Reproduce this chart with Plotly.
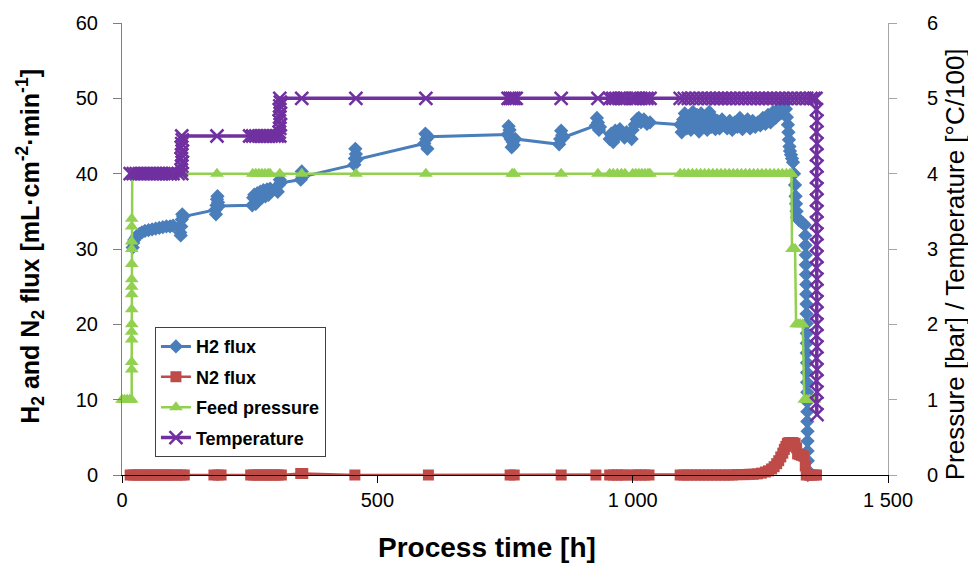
import plotly.graph_objects as go

# ---------------- data ----------------
h2_time = [21, 22, 24, 27, 30, 34, 39, 45, 52, 59, 66, 73, 80, 87, 94, 100,
           113, 114, 115, 116, 117, 118, 120,
           183, 184, 185, 186, 187, 188, 190,
           255, 257, 259, 262, 265, 268, 271, 274, 277, 281, 284, 287, 290,
           305, 307, 309, 311,
           350, 352, 354,
           455, 456, 457, 458, 460,
           592, 594, 596, 598, 600,
           755, 757, 759, 761, 763, 765, 767, 770,
           856, 858, 860, 862, 864,
           928, 930, 932, 934, 936,
           955, 958, 962, 966, 970, 975, 980, 984, 988,
           998, 1000, 1004, 1008, 1012, 1016, 1022, 1028, 1034,
           1093, 1096, 1099, 1102, 1106, 1110, 1114, 1118, 1122, 1126, 1130, 1134,
           1138, 1142, 1146, 1150, 1154, 1158, 1162, 1166, 1170, 1175, 1180, 1185,
           1190, 1195, 1200, 1205, 1210, 1215, 1220, 1225, 1230, 1235, 1240, 1245,
           1250, 1255, 1260, 1265, 1270, 1275, 1280, 1285, 1290, 1294, 1298, 1300,
           1302, 1304, 1305, 1306, 1307, 1308, 1310, 1312, 1314, 1316, 1318, 1319,
           1320, 1321, 1322, 1326, 1330, 1334, 1337,
           1338, 1338.5, 1339, 1339, 1339.5, 1340, 1340, 1340.5, 1340.5, 1341, 1341,
           1341, 1341, 1341.5, 1341.5, 1341.5, 1342, 1342, 1342, 1342, 1342.5, 1342.5,
           1342.5, 1343, 1343, 1343]
h2_flux = [30.2, 30.8, 31.2, 31.5, 31.8, 32.0, 32.2, 32.4, 32.5, 32.6, 32.7, 32.8, 32.9, 33.0, 33.0, 33.1,
           33.0, 32.2, 31.8, 33.0, 33.9, 34.6, 34.3,
           35.2, 34.6, 35.8, 36.6, 37.0, 36.2, 35.7,
           35.8, 36.8, 37.2, 36.0, 37.4, 36.5, 37.6, 36.8, 37.8, 37.0, 37.9, 37.2, 38.0,
           37.6, 38.5, 39.2, 38.8,
           39.2, 40.3, 39.6,
           41.2, 42.0, 43.3, 42.6, 41.9,
           44.0, 45.3, 44.6, 43.3, 44.9,
           45.2, 46.3, 45.8, 44.6, 43.5, 44.2, 43.8, 44.6,
           43.9, 44.6, 45.7, 45.1, 44.8,
           46.4, 47.4, 46.8, 45.8, 46.2,
           44.6, 45.3, 44.2, 45.7, 45.0, 45.9, 45.4, 44.8, 45.5,
           44.6, 45.8, 46.5, 47.2, 47.4, 46.8, 47.2, 46.6, 46.8,
           46.5, 45.5, 47.2, 48.0, 46.0, 47.6, 45.8, 48.2, 46.4, 47.8, 45.6, 48.0,
           46.6, 47.6, 45.8, 48.2, 46.2, 47.4, 45.9, 47.0, 46.0, 47.2, 46.4, 46.0,
           47.0, 45.8, 46.8, 46.2, 47.4, 45.9, 46.6, 47.2, 46.0, 47.0, 46.2, 46.8,
           46.4, 47.4, 46.6, 47.8, 46.8, 48.2, 47.4, 48.6, 48.0, 48.8, 49.3, 48.6,
           47.5, 46.5, 45.5, 44.5, 43.6, 43.0, 42.5, 42.0, 41.5, 40.0, 38.5, 37.0,
           36.0, 35.0, 34.2, 33.8, 33.6, 33.4, 33.2,
           31.8, 30.5, 29.2, 27.9, 26.6, 25.3, 24.0, 22.7, 21.4, 20.1, 18.8,
           17.5, 16.2, 14.9, 13.6, 12.3, 11.0, 9.7, 8.4, 7.1, 5.8, 4.5,
           3.2, 1.9, 0.6, 0.0]

n2_time = [16, 22, 28, 34, 40, 46, 52, 58, 64, 70, 76, 82, 88, 94, 100,
           108, 116, 122,
           180, 188, 194,
           252, 258, 264, 270, 276, 282, 288, 294, 300, 306, 312,
           350, 354,
           456, 600, 760, 768, 860,
           928, 955, 962, 970, 978, 985,
           1000, 1008, 1016, 1024, 1032,
           1093, 1100, 1108, 1116, 1124, 1132, 1140, 1148, 1156, 1164, 1172, 1180,
           1188, 1196, 1204, 1212, 1220, 1228, 1236,
           1244, 1252, 1260, 1266, 1272, 1277, 1282, 1286, 1290, 1294, 1297, 1300,
           1303, 1306, 1310, 1314, 1318, 1321, 1323, 1327, 1331, 1335, 1338,
           1340, 1345, 1350, 1355, 1360]
n2_flux = [0.0, 0.0, 0.0, 0.0, 0.0, 0.0, 0.0, 0.0, 0.0, 0.0, 0.0, 0.0, 0.0, 0.0, 0.0,
           0.0, 0.0, 0.0,
           0.0, 0.0, 0.0,
           0.0, 0.0, 0.0, 0.0, 0.0, 0.0, 0.0, 0.0, 0.0, 0.0, 0.0,
           0.2, 0.2,
           0.0, 0.0, 0.0, 0.0, 0.0,
           0.0, 0.0, 0.0, 0.0, 0.0, 0.0,
           0.0, 0.0, 0.0, 0.0, 0.0,
           0.0, 0.0, 0.0, 0.0, 0.0, 0.0, 0.0, 0.0, 0.0, 0.0, 0.0, 0.0,
           0.0, 0.0, 0.05, 0.05, 0.05, 0.1, 0.1,
           0.15, 0.25, 0.4, 0.55, 0.8, 1.1, 1.5, 1.9, 2.4, 2.9, 3.4, 3.8,
           4.2, 4.3, 4.3, 4.3, 4.2, 3.6, 2.8, 2.7, 2.6, 2.5, 1.2,
           0.0, 0.0, 0.0, 0.0, 0.0]

p_time = [0, 5, 10, 15,
          19, 19, 19, 19, 19, 19, 19, 19, 19, 19, 19, 19, 19, 19, 19,
          20, 26, 32, 38, 44, 50, 56, 62, 68, 74, 80, 86, 92, 98,
          117, 186,
          256, 262, 268, 274, 280, 286, 290, 309, 352, 458, 595, 764, 768, 860, 932,
          955, 962, 970, 978, 985,
          1000, 1006, 1012, 1018, 1024, 1030, 1034,
          1093, 1101, 1109, 1117, 1125, 1133, 1141, 1149, 1157, 1165, 1173, 1181,
          1189, 1197, 1205, 1213, 1221, 1229, 1237, 1245, 1253, 1261, 1269, 1277,
          1285, 1293, 1301, 1308, 1311,
          1312, 1315, 1318, 1320, 1324, 1328, 1333, 1336, 1341, 1346, 1352, 1356]
p_bar = [1.0, 1.0, 1.0, 1.0,
         1.0, 1.4, 1.5, 1.8, 1.9, 2.0, 2.2, 2.4, 2.5, 2.6, 2.8, 3.0, 3.1, 3.3, 3.4,
         4.0, 4.0, 4.0, 4.0, 4.0, 4.0, 4.0, 4.0, 4.0, 4.0, 4.0, 4.0, 4.0, 4.0,
         4.0, 4.0,
         4.0, 4.0, 4.0, 4.0, 4.0, 4.0, 4.0, 4.0, 4.0, 4.0, 4.0, 4.0, 4.0, 4.0, 4.0,
         4.0, 4.0, 4.0, 4.0, 4.0,
         4.0, 4.0, 4.0, 4.0, 4.0, 4.0, 4.0,
         4.0, 4.0, 4.0, 4.0, 4.0, 4.0, 4.0, 4.0, 4.0, 4.0, 4.0, 4.0,
         4.0, 4.0, 4.0, 4.0, 4.0, 4.0, 4.0, 4.0, 4.0, 4.0, 4.0, 4.0,
         4.0, 4.0, 4.0, 4.0, 4.0,
         3.0, 3.0, 3.0, 2.0, 2.0, 2.0, 2.0, 1.0, 1.0, 1.0, 1.0, 1.0]

t_time = [16, 22, 28, 34, 40, 46, 52, 58, 64, 70, 76, 82, 88, 94, 100, 110,
          117, 116, 117, 118, 116, 117, 118, 116, 117, 118, 117,
          186,
          250, 256, 262, 268, 274, 280, 286, 292, 298, 304,
          309, 308, 309, 310, 308, 309, 310, 308, 309, 310, 309,
          352, 458, 595, 756, 760, 764, 768, 772, 860, 932,
          955, 961, 967, 973, 979, 985,
          998, 1004, 1010, 1016, 1022, 1028, 1034,
          1093, 1101, 1109, 1117, 1125, 1133, 1141, 1149, 1157, 1165, 1173, 1181,
          1189, 1197, 1205, 1213, 1221, 1229, 1237, 1245, 1253, 1261, 1269, 1277,
          1285, 1293, 1301, 1309, 1317, 1325, 1333, 1341, 1349, 1355, 1359,
          1360, 1361, 1360, 1361, 1360, 1361, 1360, 1361, 1360, 1361, 1360, 1361,
          1360, 1361, 1360, 1361, 1360, 1361, 1360, 1361, 1360, 1361, 1360, 1361,
          1360, 1361, 1360, 1361]
t_value = [4.0, 4.0, 4.0, 4.0, 4.0, 4.0, 4.0, 4.0, 4.0, 4.0, 4.0, 4.0, 4.0, 4.0, 4.0, 4.0,
           4.0, 4.05, 4.1, 4.15, 4.2, 4.25, 4.3, 4.35, 4.4, 4.45, 4.5,
           4.5,
           4.5, 4.5, 4.5, 4.5, 4.5, 4.5, 4.5, 4.5, 4.5, 4.5,
           4.5, 4.55, 4.6, 4.65, 4.7, 4.75, 4.8, 4.85, 4.9, 4.95, 5.0,
           5.0, 5.0, 5.0, 5.0, 5.0, 5.0, 5.0, 5.0, 5.0, 5.0,
           5.0, 5.0, 5.0, 5.0, 5.0, 5.0,
           5.0, 5.0, 5.0, 5.0, 5.0, 5.0, 5.0,
           5.0, 5.0, 5.0, 5.0, 5.0, 5.0, 5.0, 5.0, 5.0, 5.0, 5.0, 5.0,
           5.0, 5.0, 5.0, 5.0, 5.0, 5.0, 5.0, 5.0, 5.0, 5.0, 5.0, 5.0,
           5.0, 5.0, 5.0, 5.0, 5.0, 5.0, 5.0, 5.0, 5.0, 5.0, 5.0,
           4.85, 4.7, 4.55, 4.4, 4.25, 4.1, 3.95, 3.8, 3.65, 3.5, 3.35, 3.2,
           3.05, 2.9, 2.75, 2.6, 2.45, 2.3, 2.15, 2.0, 1.85, 1.7, 1.55, 1.4,
           1.25, 1.1, 0.95, 0.8]

x_tickvals = [0, 500, 1000, 1500]
x_ticktext = ["0", "500", "1 000", "1 500"]
y1_ticks = [0, 10, 20, 30, 40, 50, 60]
y2_ticks = [0, 1, 2, 3, 4, 5, 6]

x_title = "Process time [h]"
y1_title = "H<sub>2</sub> and N<sub>2</sub> flux [mL·cm<sup>-2</sup>·min<sup>-1</sup>]"
y2_title = "Pressure [bar] / Temperature [°C/100]"

# ---------------- styling ----------------
FONT = "Liberation Sans, Arial, sans-serif"
BLUE = "#4A7EBB"
RED = "#BE4B48"
GREEN = "#92D050"
PURPLE = "#7030A0"

fig = go.Figure()
fig.add_trace(go.Scatter(
    x=h2_time, y=h2_flux, name="H2 flux", mode="lines+markers",
    line=dict(color=BLUE, width=3),
    marker=dict(symbol="diamond", size=11, color=BLUE),
    cliponaxis=False, legendgroup="a", yaxis="y"))
fig.add_trace(go.Scatter(
    x=n2_time, y=n2_flux, name="N2 flux", mode="lines+markers",
    line=dict(color=RED, width=2.5),
    marker=dict(symbol="square", size=11, color=RED),
    cliponaxis=False, legendgroup="b", yaxis="y"))
fig.add_trace(go.Scatter(
    x=p_time, y=p_bar, name="Feed pressure", mode="lines+markers",
    line=dict(color=GREEN, width=2.5),
    marker=dict(symbol="triangle-up", size=12, color=GREEN),
    cliponaxis=False, legendgroup="c", yaxis="y2"))
fig.add_trace(go.Scatter(
    x=t_time, y=t_value, name="Temperature", mode="lines+markers",
    line=dict(color=PURPLE, width=3.5),
    marker=dict(symbol="x-thin", size=13, color=PURPLE,
                line=dict(color=PURPLE, width=2.5)),
    cliponaxis=False, legendgroup="d", yaxis="y2"))

fig.update_layout(
    width=976, height=574,
    margin=dict(l=114, r=96, t=15, b=107, autoexpand=False),
    paper_bgcolor="white", plot_bgcolor="white",
    font=dict(family=FONT, size=20, color="black"),
    showlegend=True,
    legend=dict(
        x=0.043, y=0.327, xanchor="left", yanchor="top",
        bgcolor="white", bordercolor="#404040", borderwidth=1,
        font=dict(family=FONT, size=18, color="black", weight="bold"),
        traceorder="grouped", tracegroupgap=4, itemwidth=30,
    ),
    xaxis=dict(
        range=[0, 1500], tickvals=x_tickvals, ticktext=x_ticktext,
        showgrid=False, zeroline=False, automargin=False,
        showline=True, linecolor="black", linewidth=1,
        ticks="outside", ticklen=7, tickcolor="black",
    ),
    yaxis=dict(
        range=[0, 60], tickvals=y1_ticks,
        showgrid=False, zeroline=False, automargin=False,
        showline=True, linecolor="#7f7f7f", linewidth=1,
        ticks="outside", ticklen=8, tickcolor="#7f7f7f",
        ticklabelstandoff=11,
    ),
    yaxis2=dict(
        range=[0, 6], tickvals=y2_ticks, overlaying="y", side="right",
        showgrid=False, zeroline=False, automargin=False,
        showline=True, linecolor="#a6a6a6", linewidth=1,
        ticks="outside", ticklen=8, tickcolor="#a6a6a6",
        ticklabelstandoff=26,
    ),
    annotations=[
        dict(text=x_title, xref="paper", yref="paper", x=0.477, y=-0.1615,
             xanchor="center", yanchor="middle", showarrow=False,
             font=dict(family=FONT, size=28, weight="bold")),
        dict(text=y1_title, xref="paper", yref="paper", x=-0.120, y=0.505,
             xanchor="center", yanchor="middle", showarrow=False, textangle=-90,
             font=dict(family=FONT, size=25, weight="bold")),
        dict(text=y2_title, xref="paper", yref="paper", x=1.088, y=0.467,
             xanchor="center", yanchor="middle", showarrow=False, textangle=-90,
             font=dict(family=FONT, size=26)),
    ],
)

fig.write_html("out.html")
